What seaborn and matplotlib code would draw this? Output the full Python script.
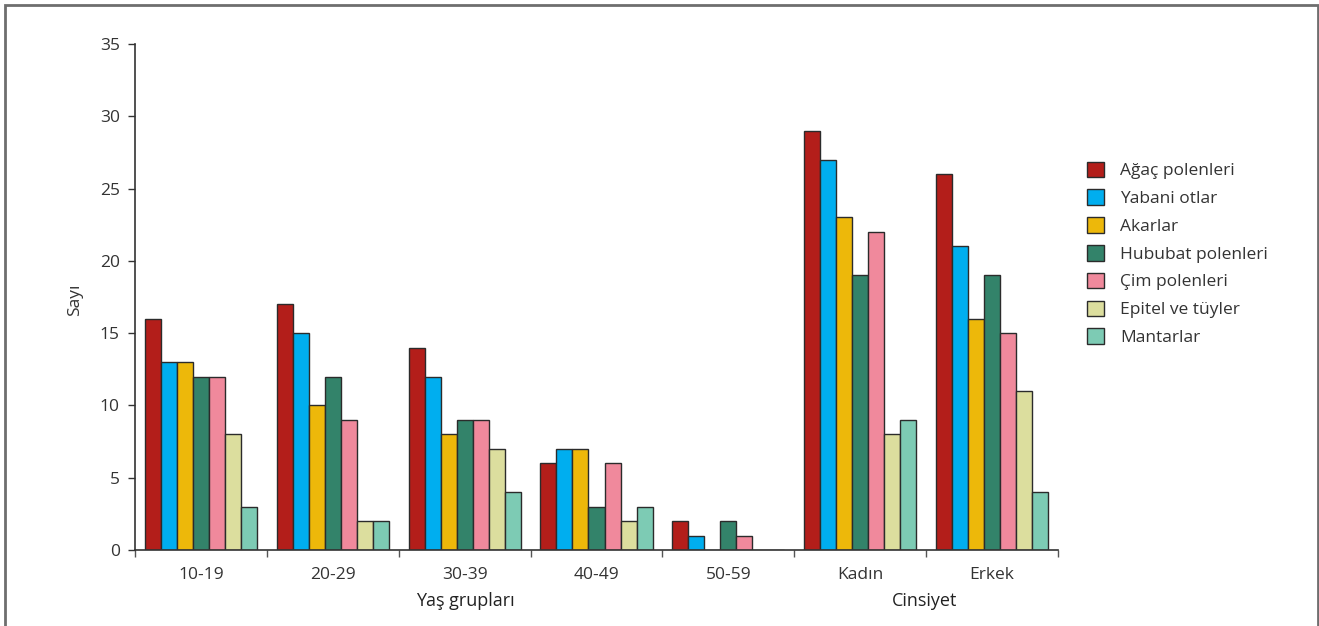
import matplotlib
matplotlib.use("Agg")
import matplotlib.pyplot as plt
import matplotlib.patches as mpatches
import seaborn as sns
import pandas as pd

# Categories along the x axis
groups = ["10-19", "20-29", "30-39", "40-49", "50-59", "Kadın", "Erkek"]

# Allergen series
allergens = ["Ağaç polenleri", "Yabani otlar", "Akarlar", "Hububat polenleri",
             "Çim polenleri", "Epitel ve tüyler", "Mantarlar"]

agac = [16, 17, 14, 6, 2, 29, 26]
yabani = [13, 15, 12, 7, 1, 27, 21]
akarlar = [13, 10, 8, 7, 0, 23, 16]
hububat = [12, 12, 9, 3, 2, 19, 19]
cim = [12, 9, 9, 6, 1, 22, 15]
epitel = [8, 2, 7, 2, 0, 8, 11]
mantar = [3, 2, 4, 3, 0, 9, 4]

colors = ["#B31E1A", "#00AEEF", "#EDB80A", "#33836A", "#F0899C", "#DCDE9E", "#7DCBB4"]

series = [agac, yabani, akarlar, hububat, cim, epitel, mantar]
rows = []
for name, vals in zip(allergens, series):
    for g, v in zip(groups, vals):
        rows.append({"Grup": g, "Alerjen": name, "Sayı": v})
df = pd.DataFrame(rows)

sns.set_style("white")
plt.rcParams["font.family"] = ["Open Sans", "DejaVu Sans"]

fig = plt.figure(figsize=(13.19, 6.26), dpi=100)
ax = fig.add_axes([135 / 1319, 1 - 550 / 626, (1058 - 135) / 1319, (550 - 44) / 626])

sns.barplot(data=df, x="Grup", y="Sayı", hue="Alerjen", order=groups,
            hue_order=allergens, palette=colors, saturation=1, width=0.85, dodge=True,
            edgecolor="#2b2b2b", linewidth=1.0, errorbar=None, ax=ax, legend=False)

ax.set_ylim(0, 35)
ax.set_xlim(-0.5, len(groups) - 0.5)
ax.set_yticks(range(0, 36, 5))
ax.tick_params(axis="y", which="major", direction="out", length=5, width=1,
               color="#333333", labelsize=12.5, labelcolor="#333333", pad=6, left=True)
ax.tick_params(axis="x", which="major", length=0, labelsize=12.5,
               labelcolor="#333333", pad=12)
ax.set_xticks([i - 0.5 for i in range(len(groups) + 1)], minor=True)
ax.tick_params(axis="x", which="minor", direction="out", length=5, width=1,
               color="#555555", bottom=True)

for s in ["top", "right"]:
    ax.spines[s].set_visible(False)
for s in ["left", "bottom"]:
    ax.spines[s].set_color("#333333")
    ax.spines[s].set_linewidth(1.2)

ax.set_xlabel("")
ax.set_ylabel("")
fig.text(75 / 1319, 1 - 300 / 626, "Sayı", rotation=90, ha="center", va="center",
         fontsize=12.5, color="#333333")
fig.text(465 / 1319, 1 - 601 / 626, "Yaş grupları", ha="center", va="center",
         fontsize=13, color="#222222")
fig.text(925 / 1319, 1 - 601 / 626, "Cinsiyet", ha="center", va="center",
         fontsize=13, color="#222222")

handles = [mpatches.Patch(facecolor=c, edgecolor="#2b2b2b", linewidth=1.0, label=a)
           for c, a in zip(colors, allergens)]
fig.legend(handles=handles, loc="upper left",
           bbox_to_anchor=(1071 / 1319, 1 - 146 / 626), frameon=False,
           fontsize=12.5, handlelength=1.0, handleheight=1.0, handletextpad=0.95,
           labelspacing=0.58, labelcolor="#333333")

# Outer frame
frame = mpatches.Rectangle((5 / 1319, -0.05), (1318 - 5) / 1319, 1.05 - 5 / 626,
                           transform=fig.transFigure, fill=False,
                           edgecolor="#6e6e6e", linewidth=2.0, clip_on=False)
fig.patches.append(frame)

fig.savefig("out.png", dpi=100)
